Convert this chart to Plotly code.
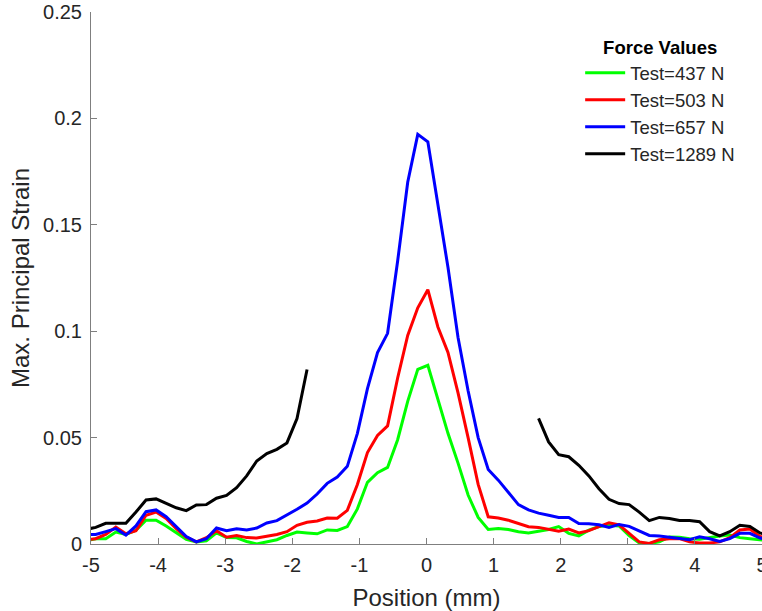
import plotly.graph_objects as go

position_mm = [-5.08, -4.93, -4.78, -4.63, -4.48, -4.33, -4.18, -4.03, -3.88, -3.73,
               -3.58, -3.43, -3.28, -3.13, -2.98, -2.83, -2.68, -2.53, -2.38, -2.23,
               -2.08, -1.93, -1.78, -1.63, -1.48, -1.33, -1.18, -1.03, -0.88, -0.73,
               -0.58, -0.43, -0.28, -0.13, 0.02, 0.17, 0.32, 0.47, 0.62, 0.77,
               0.92, 1.07, 1.22, 1.37, 1.52, 1.67, 1.82, 1.97, 2.12, 2.27,
               2.42, 2.57, 2.72, 2.87, 3.02, 3.17, 3.32, 3.47, 3.62, 3.77,
               3.92, 4.07, 4.22, 4.37, 4.52, 4.67, 4.82, 4.97, 5.12]

strain_437 = [0.0015, 0.0025, 0.0025, 0.0056, 0.0045, 0.0065, 0.0112, 0.0112, 0.0085, 0.0053,
              0.0022, 0.0009, 0.0015, 0.0052, 0.0031, 0.0029, 0.0012, 0.0, 0.0010, 0.0020,
              0.0040, 0.0056, 0.0052, 0.0048, 0.0066, 0.0064, 0.0082, 0.0165, 0.029, 0.0335,
              0.036, 0.049, 0.067, 0.0821, 0.084, 0.068, 0.052, 0.038, 0.023, 0.0125,
              0.0068, 0.0073, 0.0068, 0.0058, 0.0052, 0.0060, 0.0068, 0.0082, 0.0050, 0.0038,
              0.0065, 0.0082, 0.0088, 0.0085, 0.0040, 0.0005, 0.0002, 0.0010, 0.0033, 0.0032,
              0.0025, 0.0022, 0.0030, 0.0038, 0.0042, 0.0030, 0.0025, 0.0019, 0.0015]

strain_503 = [0.002, 0.0025, 0.0045, 0.0080, 0.0048, 0.0062, 0.0135, 0.015, 0.0120, 0.0072,
              0.0032, 0.0010, 0.0030, 0.0062, 0.0032, 0.0040, 0.0030, 0.0028, 0.0036, 0.0045,
              0.0058, 0.0088, 0.0102, 0.0108, 0.0122, 0.0121, 0.0158, 0.028, 0.043, 0.051,
              0.0555, 0.078, 0.098, 0.111, 0.1195, 0.102, 0.090, 0.071, 0.050, 0.028,
              0.0128, 0.0122, 0.0112, 0.0095, 0.0081, 0.0078, 0.0068, 0.0060, 0.0070, 0.0052,
              0.0063, 0.0081, 0.0100, 0.0090, 0.0050, 0.0010, 0.0003, 0.0020, 0.0025, 0.0025,
              0.0010, 0.0005, 0.0005, 0.0010, 0.0030, 0.0066, 0.0070, 0.0035, 0.003]

strain_657 = [0.0045, 0.0045, 0.0058, 0.0072, 0.0042, 0.0085, 0.0152, 0.016, 0.0128, 0.0080,
              0.0035, 0.0010, 0.0025, 0.0075, 0.0062, 0.0072, 0.0066, 0.0075, 0.0099, 0.0110,
              0.0135, 0.0163, 0.0192, 0.0235, 0.0285, 0.0315, 0.0365, 0.052, 0.073, 0.090,
              0.099, 0.133, 0.170, 0.1925, 0.189, 0.160, 0.130, 0.097, 0.072, 0.050,
              0.035, 0.030, 0.024, 0.0185, 0.016, 0.0145, 0.0135, 0.0125, 0.0125, 0.0096,
              0.0095, 0.009, 0.0078, 0.0092, 0.0083, 0.0060, 0.0040, 0.0038, 0.0033, 0.0025,
              0.0020, 0.0034, 0.0025, 0.0012, 0.0025, 0.0050, 0.0050, 0.0028, 0.002]

strain_1289 = [0.0068, 0.0078, 0.0097, 0.0097, 0.0097, 0.0150, 0.0207, 0.0212, 0.0190, 0.0170,
               0.0157, 0.0183, 0.0185, 0.0215, 0.0228, 0.0265, 0.032, 0.039, 0.0425, 0.0445,
               0.0475, 0.059, 0.082, None, None, None, None, None, None, None,
               None, None, None, None, None, None, None, None, None, None,
               None, None, None, None, None, 0.059, 0.048, 0.042, 0.041, 0.037,
               0.032, 0.026, 0.021, 0.019, 0.0185, 0.015, 0.011, 0.0125, 0.012, 0.011,
               0.011, 0.0105, 0.0058, 0.0038, 0.0058, 0.0088, 0.0082, 0.0052, 0.004]

series_names = ["Test=437 N", "Test=503 N", "Test=657 N", "Test=1289 N"]
series_values = [strain_437, strain_503, strain_657, strain_1289]
series_colors = ["#00ff00", "#ff0000", "#0000ff", "#000000"]

x_ticks = [-5, -4, -3, -2, -1, 0, 1, 2, 3, 4, 5]
y_ticks = [0, 0.05, 0.1, 0.15, 0.2, 0.25]
y_tick_labels = ["0", "0.05", "0.1", "0.15", "0.2", "0.25"]

fig = go.Figure()
for name, vals, col in zip(series_names, series_values, series_colors):
    fig.add_trace(go.Scatter(x=position_mm, y=vals, mode="lines", name=name,
                             line=dict(color=col, width=3), connectgaps=False,
                             legendgroup=name))

font_family = "Liberation Sans, Arial, sans-serif"
axis_color = "#7f7f7f"
text_color = "#262626"

fig.update_layout(
    width=762, height=611,
    margin=dict(l=91, r=0, t=12, b=67),
    paper_bgcolor="white", plot_bgcolor="white",
    font=dict(family=font_family, size=20, color=text_color),
    showlegend=True,
    legend=dict(
        x=0.729, y=0.966, xanchor="left", yanchor="top",
        bgcolor="rgba(255,255,255,0)", borderwidth=0,
        font=dict(size=18.5, color=text_color),
        title=dict(text="<b>Force Values</b>", side="top center",
                   font=dict(size=18.5, color="#000000")),
        tracegroupgap=0,
        itemwidth=40,
    ),
    xaxis=dict(
        range=[-5, 5], tickvals=x_ticks, ticktext=[str(v) for v in x_ticks],
        showline=True, linecolor=axis_color, linewidth=1, mirror=False,
        ticks="inside", ticklen=6, tickcolor=axis_color, tickwidth=1,
        showgrid=False, zeroline=False, automargin=False,
        ticklabelstandoff=3, ticklabeloverflow="allow",
        tickfont=dict(size=20, color=text_color),
        title=dict(text="Position (mm)", font=dict(size=24, color=text_color), standoff=14),
    ),
    yaxis=dict(
        range=[0, 0.25], tickvals=y_ticks, ticktext=y_tick_labels,
        showline=True, linecolor=axis_color, linewidth=1, mirror=False,
        ticks="inside", ticklen=6, tickcolor=axis_color, tickwidth=1,
        showgrid=False, zeroline=False, automargin=False,
        ticklabelstandoff=4, ticklabeloverflow="allow",
        tickfont=dict(size=20, color=text_color),
        title=dict(text="Max. Principal Strain", font=dict(size=24, color=text_color), standoff=6),
    ),
)

fig.write_html(
    "out.html",
    config={"displayModeBar": False},
    post_script="document.body.style.margin='0px'; document.body.style.overflow='hidden';",
)
